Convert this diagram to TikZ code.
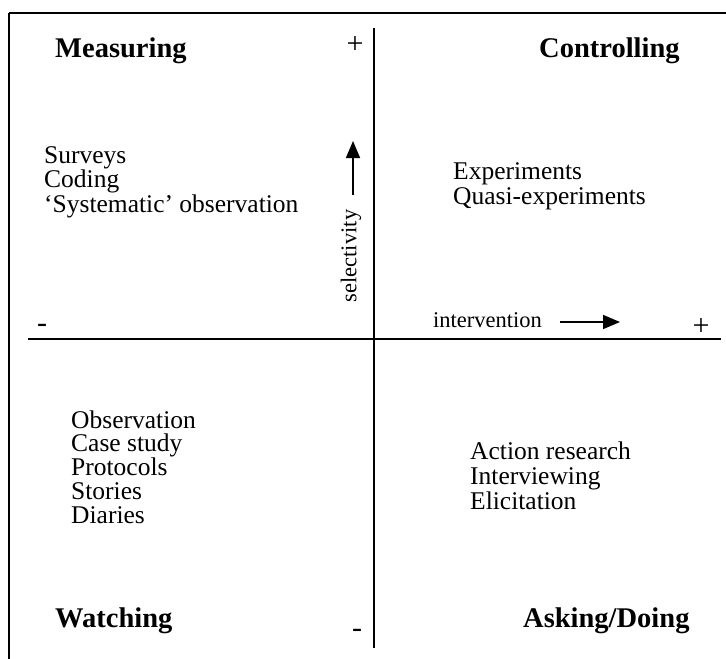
\documentclass[tikz,border=0pt]{standalone}
\usepackage{fontspec}
\setmainfont{Liberation Serif}
\usetikzlibrary{arrows.meta}
\tikzset{
  head/.style={font=\fontsize{28.5}{28.5}\selectfont\bfseries, anchor=base west, inner sep=0pt},
  item/.style={font=\fontsize{25.5}{25.5}\selectfont, anchor=base west, inner sep=0pt},
  small/.style={font=\fontsize{22.5}{22.5}\selectfont, inner sep=0pt},
  sign/.style={font=\fontsize{30}{30}\selectfont, inner sep=0pt},
  axis/.style={line width=1.6pt},
  dir/.style={line width=1.6pt, -{Triangle[length=17pt,width=14pt]}},
}
\begin{document}
\begin{tikzpicture}[x=1pt,y=-1pt]
\useasboundingbox (0,0) rectangle (726,659);
% frame (top and left only)
\coordinate (ftr) at (726,13); \coordinate (ftl) at (9,13); \coordinate (fbl) at (9,659);
\draw[line width=1.6pt] (ftr)--(ftl);
\draw[line width=2.4pt] (ftl)--(fbl);
% axes
\coordinate (xl) at (28,339); \coordinate (xr) at (721,339);
\coordinate (yt) at (374,28); \coordinate (yb) at (374,648);
\draw[axis] (xl)--(xr);
\draw[axis] (yt)--(yb);
\node[sign] (ptop) at (355,45) {+};
\node[sign] (mbot) at (357,633) {-};
\node[sign] (mleft) at (42,328) {-};
\node[sign] (pright) at (701,327) {+};
% selectivity
\node[small,rotate=90] (sel) at (351,256) {selectivity};
\coordinate (s0) at (353,195); \coordinate (s1) at (353,141);
\draw[dir] (s0)--(s1);
% intervention
\node[small,anchor=base west] (int) at (433,327) {intervention};
\coordinate (i0) at (560,322); \coordinate (i1) at (620,322);
\draw[dir] (i0)--(i1);
% quadrant names
\node[head] (meas) at (55,57) {Measuring};
\node[head] (ctrl) at (539,57) {Controlling};
\node[head] (watch) at (55,627) {Watching};
\node[head] (ask) at (523,627) {Asking/Doing};
% methods
\foreach \t [count=\i] in {Surveys, Coding, ‘Systematic’ observation}
  \node[item] (m\i) at (44,163+24.5*\i-24.5) {\t};
\foreach \t [count=\i] in {Experiments, Quasi-experiments}
  \node[item] (c\i) at (453,179+25*\i-25) {\t};
\foreach \t [count=\i] in {Observation, Case study, Protocols, Stories, Diaries}
  \node[item] (w\i) at (71,428+23.8*\i-23.8) {\t};
\foreach \t [count=\i] in {Action research, Interviewing, Elicitation}
  \node[item] (a\i) at (470,459+25*\i-25) {\t};
\end{tikzpicture}
\end{document}
